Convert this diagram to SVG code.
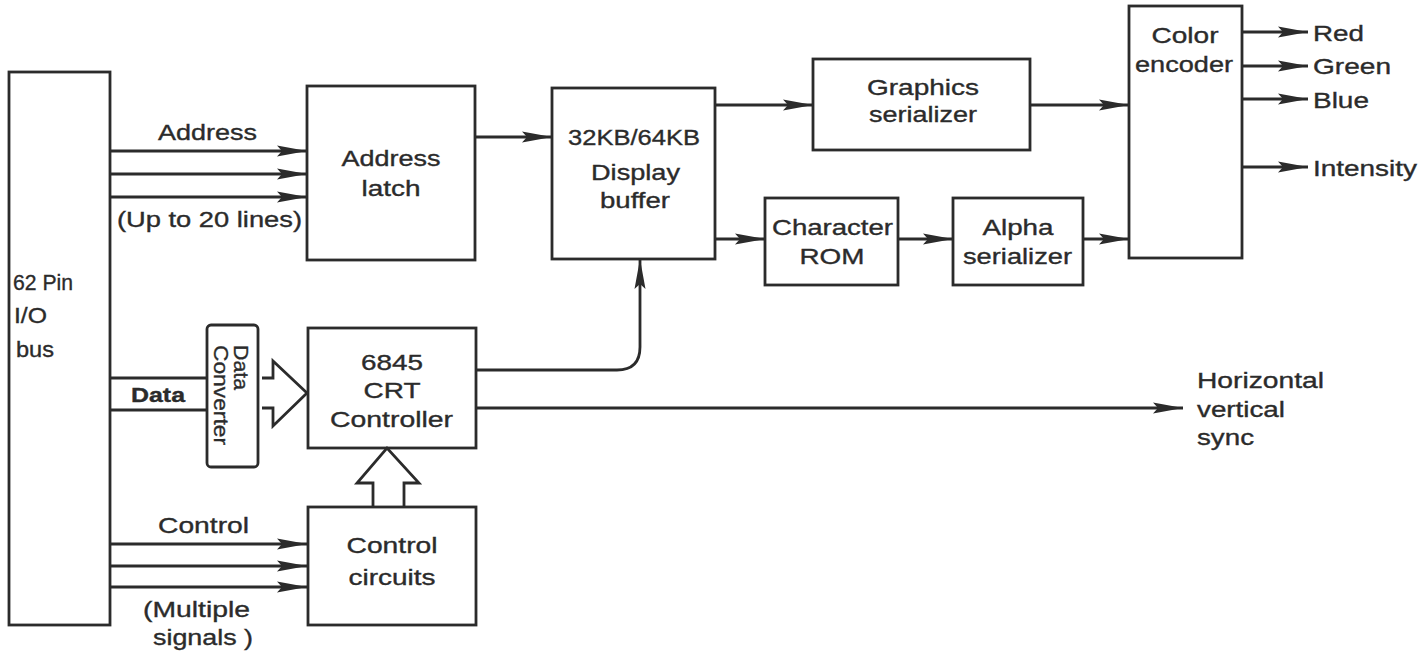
<svg xmlns="http://www.w3.org/2000/svg" width="1424" height="653" viewBox="0 0 1424 653">
<defs>
<style>
.box{fill:none;stroke:#2b2b2b;stroke-width:2.8}
.ln{fill:none;stroke:#2b2b2b;stroke-width:2.8}
.la{fill:none;stroke:#2b2b2b;stroke-width:2.8;marker-end:url(#ah)}
.hollow{fill:#fff;stroke:#2b2b2b;stroke-width:2.8;stroke-linejoin:miter}
text{font-family:"Liberation Sans",Arial,Helvetica,sans-serif;font-size:22px;fill:#2b2b2b;stroke:#2b2b2b;stroke-width:0.35}
.m{text-anchor:middle}
.b{font-weight:bold;font-size:20px}
.v{font-size:20px}
</style>
<marker id="ah" markerUnits="userSpaceOnUse" markerWidth="30" markerHeight="14" refX="30" refY="7" orient="auto">
<path d="M0,1.5 L30,7 L0,12.5 L5,7 Z" fill="#2b2b2b"/>
</marker>
</defs>
<rect width="1424" height="653" fill="#fff"/>

<g id="connectors">
<path class="la" d="M110,151 H307"/>
<path class="la" d="M110,174 H307"/>
<path class="la" d="M110,197 H307"/>
<path class="ln" d="M110,378 H207"/>
<path class="ln" d="M110,410 H207"/>
<path class="la" d="M110,544 H307"/>
<path class="la" d="M110,566 H307"/>
<path class="la" d="M110,587 H307"/>
<path class="la" d="M475,137 H552"/>
<path class="la" d="M715,105 H813"/>
<path class="la" d="M715,239 H765"/>
<path class="la" d="M898,239 H953"/>
<path class="la" d="M1083,239 H1129"/>
<path class="la" d="M1030,105 H1129"/>
<path class="la" d="M1242,32 H1308"/>
<path class="la" d="M1242,66 H1308"/>
<path class="la" d="M1242,99 H1308"/>
<path class="la" d="M1242,167 H1308"/>
<path class="la" d="M476,370 H617 Q640,370 640,347 V259"/>
<path class="la" d="M476,408 H1183"/>
<path class="hollow" d="M262,378 H273 V361 L307,393 L273,426 V408 H262"/>
<path class="hollow" d="M373,507 V483 H357 L387,448 L419,483 H404 V507"/>
</g>

<g id="bus">
<rect class="box" x="9" y="72" width="101" height="553"/>
<text x="13" y="290" textLength="60" lengthAdjust="spacingAndGlyphs">62 Pin</text>
<text x="14" y="323" textLength="33" lengthAdjust="spacingAndGlyphs">I/O</text>
<text x="16" y="357" textLength="38" lengthAdjust="spacingAndGlyphs">bus</text>
</g>

<g id="bus-labels">
<text x="158" y="140" textLength="99" lengthAdjust="spacingAndGlyphs">Address</text>
<text x="117" y="227" textLength="185" lengthAdjust="spacingAndGlyphs">(Up to 20 lines)</text>
<text class="b" x="131" y="402" textLength="54" lengthAdjust="spacingAndGlyphs">Data</text>
<text x="158" y="533" textLength="91" lengthAdjust="spacingAndGlyphs">Control</text>
<text x="143" y="617" textLength="107" lengthAdjust="spacingAndGlyphs">(Multiple</text>
<text x="153" y="645" textLength="100" lengthAdjust="spacingAndGlyphs">signals )</text>
</g>

<g id="address-latch">
<rect class="box" x="307" y="86" width="168" height="174"/>
<text class="m" x="391" y="166" textLength="99" lengthAdjust="spacingAndGlyphs">Address</text>
<text class="m" x="391" y="196" textLength="59" lengthAdjust="spacingAndGlyphs">latch</text>
</g>

<g id="data-converter">
<rect class="box" x="207" y="325" width="51" height="142" rx="4"/>
<text class="v" transform="translate(234,345) rotate(90)" x="0" y="0" textLength="45" lengthAdjust="spacingAndGlyphs">Data</text>
<text class="v" transform="translate(214,345) rotate(90)" x="0" y="0" textLength="100" lengthAdjust="spacingAndGlyphs">Converter</text>
</g>

<g id="crt-controller">
<rect class="box" x="308" y="328" width="168" height="120"/>
<text class="m" x="392" y="370" textLength="62" lengthAdjust="spacingAndGlyphs">6845</text>
<text class="m" x="392" y="398" textLength="57" lengthAdjust="spacingAndGlyphs">CRT</text>
<text x="330" y="427" textLength="123" lengthAdjust="spacingAndGlyphs">Controller</text>
</g>

<g id="control-circuits">
<rect class="box" x="308" y="507" width="168" height="118"/>
<text class="m" x="392" y="553" textLength="91" lengthAdjust="spacingAndGlyphs">Control</text>
<text class="m" x="392" y="585" textLength="87" lengthAdjust="spacingAndGlyphs">circuits</text>
</g>

<g id="display-buffer">
<rect class="box" x="552" y="88" width="163" height="171"/>
<text x="568" y="145" textLength="132" lengthAdjust="spacingAndGlyphs">32KB/64KB</text>
<text x="591" y="180" textLength="89" lengthAdjust="spacingAndGlyphs">Display</text>
<text x="600" y="208" textLength="70" lengthAdjust="spacingAndGlyphs">buffer</text>
</g>

<g id="graphics-serializer">
<rect class="box" x="813" y="59" width="217" height="91"/>
<text x="867" y="95" textLength="112" lengthAdjust="spacingAndGlyphs">Graphics</text>
<text x="869" y="122" textLength="108" lengthAdjust="spacingAndGlyphs">serializer</text>
</g>

<g id="character-rom">
<rect class="box" x="765" y="198" width="133" height="87"/>
<text x="772" y="235" textLength="121" lengthAdjust="spacingAndGlyphs">Character</text>
<text class="m" x="832" y="264" textLength="65" lengthAdjust="spacingAndGlyphs">ROM</text>
</g>

<g id="alpha-serializer">
<rect class="box" x="953" y="198" width="130" height="87"/>
<text class="m" x="1018" y="235" textLength="71" lengthAdjust="spacingAndGlyphs">Alpha</text>
<text x="963" y="264" textLength="109" lengthAdjust="spacingAndGlyphs">serializer</text>
</g>

<g id="color-encoder">
<rect class="box" x="1129" y="6" width="113" height="252"/>
<text class="m" x="1185" y="43" textLength="67" lengthAdjust="spacingAndGlyphs">Color</text>
<text x="1135" y="72" textLength="98" lengthAdjust="spacingAndGlyphs">encoder</text>
</g>

<g id="outputs">
<text x="1313" y="41" textLength="51" lengthAdjust="spacingAndGlyphs">Red</text>
<text x="1313" y="74" textLength="78" lengthAdjust="spacingAndGlyphs">Green</text>
<text x="1313" y="108" textLength="56" lengthAdjust="spacingAndGlyphs">Blue</text>
<text x="1313" y="176" textLength="104" lengthAdjust="spacingAndGlyphs">Intensity</text>
<text x="1197" y="388" textLength="127" lengthAdjust="spacingAndGlyphs">Horizontal</text>
<text x="1197" y="417" textLength="88" lengthAdjust="spacingAndGlyphs">vertical</text>
<text x="1197" y="445" textLength="57" lengthAdjust="spacingAndGlyphs">sync</text>
</g>
</svg>
